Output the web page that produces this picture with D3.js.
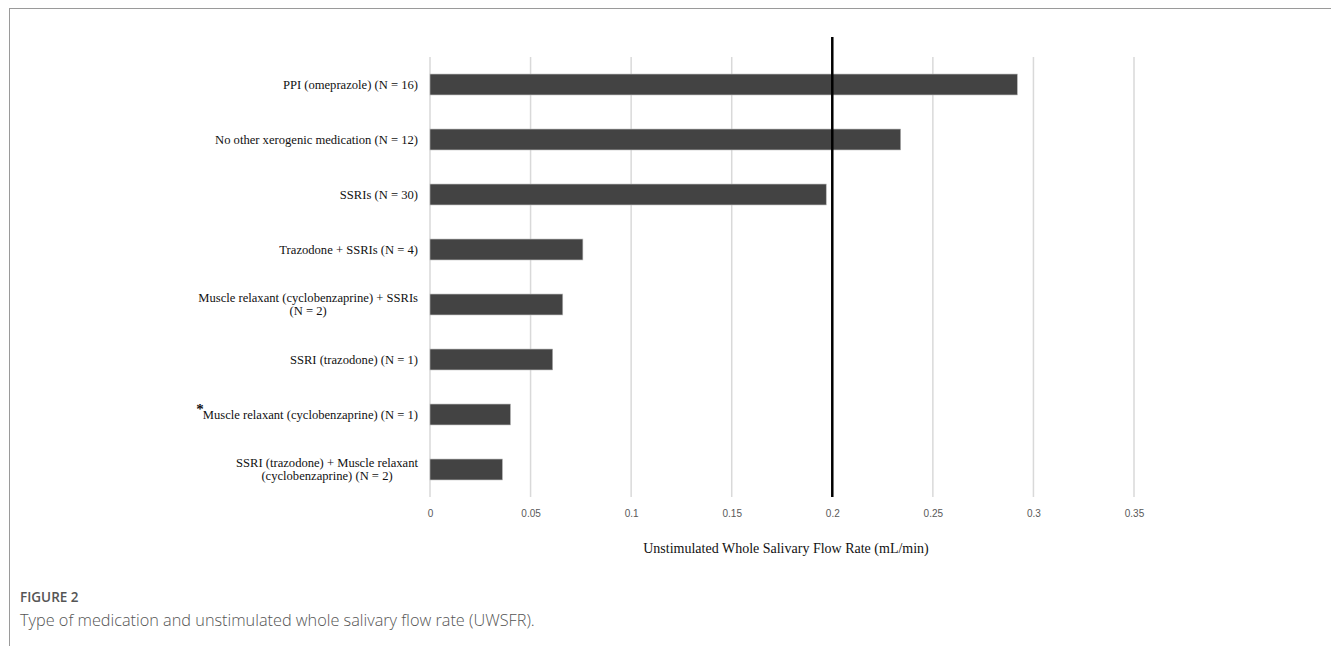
<!DOCTYPE html>
<html lang="en">
<head>
<meta charset="utf-8">
<title>UWSFR by medication</title>
<script src="https://d3js.org/d3.v7.min.js"></script>
<style>
  body { margin: 0; background: #fff; }
</style>
</head>
<body>
<div id="chart"></div>
<script>
// medication groups (top to bottom), each label split into lines
var categories = [
  ["PPI (omeprazole) (N = 16)"],
  ["No other xerogenic medication (N = 12)"],
  ["SSRIs (N = 30)"],
  ["Trazodone + SSRIs (N = 4)"],
  ["Muscle relaxant (cyclobenzaprine) + SSRIs", "(N = 2)"],
  ["SSRI (trazodone) (N = 1)"],
  ["Muscle relaxant (cyclobenzaprine) (N = 1)"],
  ["SSRI (trazodone) + Muscle relaxant", "(cyclobenzaprine) (N = 2)"]
];
var uwsfr = [0.292, 0.234, 0.197, 0.076, 0.066, 0.061, 0.040, 0.036];
var starred = [6]; // index of label with asterisk
var xTicks = [0, 0.05, 0.1, 0.15, 0.2, 0.25, 0.3, 0.35];
var cutoff = 0.2;

var W = 1331, H = 646;
var svg = d3.select("#chart").append("svg").attr("width", W).attr("height", H);

// frame lines top and left
svg.append("line").attr("x1", 9).attr("y1", 8.5).attr("x2", W).attr("y2", 8.5)
  .attr("stroke", "#9a9a9a").attr("stroke-width", 1);
svg.append("line").attr("x1", 9.5).attr("y1", 8).attr("x2", 9.5).attr("y2", H)
  .attr("stroke", "#9a9a9a").attr("stroke-width", 1);

var x = d3.scaleLinear().domain([0, 0.35]).range([430, 1134]);
var y = d3.scaleBand().domain(d3.range(categories.length)).range([57, 497])
  .paddingInner(0.62).paddingOuter(0.31);

// gridlines
svg.append("g").selectAll("line").data(xTicks).join("line")
  .attr("x1", d => x(d)).attr("x2", d => x(d))
  .attr("y1", 57).attr("y2", 497)
  .attr("stroke", "#d9d9d9").attr("stroke-width", 1.5);

// bars
svg.append("g").selectAll("rect").data(uwsfr).join("rect")
  .attr("x", x(0))
  .attr("y", (d, i) => y(i))
  .attr("width", d => x(d) - x(0))
  .attr("height", y.bandwidth())
  .attr("fill", "#434343")
  .attr("stroke", "#b5b5b5").attr("stroke-width", 0.6);

// cutoff line at 0.2
svg.append("line").attr("x1", x(cutoff)).attr("x2", x(cutoff))
  .attr("y1", 37).attr("y2", 497)
  .attr("stroke", "#000").attr("stroke-width", 2.5);

// x axis tick labels
var axis = svg.append("g").attr("transform", "translate(0,497)")
  .call(d3.axisBottom(x).tickValues(xTicks).tickSize(0).tickPadding(13)
    .tickFormat(d => d3.format("")(+d.toFixed(2))));
axis.select(".domain").remove();
axis.selectAll("text").attr("font-family", "'Liberation Sans', Arial, sans-serif")
  .attr("font-size", 10).attr("fill", "#595959");

// category labels
var labelX = 418;
var lab = svg.append("g").attr("font-family", "'Liberation Serif', 'Times New Roman', serif")
  .attr("font-size", 12.6).attr("fill", "#111");
categories.forEach(function (lines, i) {
  var cy = y(i) + y.bandwidth() / 2;
  var lh = 12.7;
  var t = lab.append("text");
  lines.forEach(function (ln, k) {
    t.append("tspan").attr("y", cy + 4 + (k - (lines.length - 1) / 2) * lh).text(ln);
  });
  // right-align the block, center lines inside it
  var widths = t.selectAll("tspan").nodes().map(n => n.getComputedTextLength());
  var maxW = d3.max(widths);
  t.selectAll("tspan").attr("x", labelX - maxW / 2).attr("text-anchor", "middle");
  if (starred.indexOf(i) >= 0) {
    lab.append("text").attr("x", labelX - maxW + 1).attr("y", cy - 1)
      .attr("text-anchor", "end").attr("font-size", 15).attr("font-weight", "bold")
      .text("*");
  }
});

// axis title
svg.append("text").attr("x", 786).attr("y", 553).attr("text-anchor", "middle")
  .attr("font-family", "'Liberation Serif', 'Times New Roman', serif")
  .attr("font-size", 14).attr("fill", "#111")
  .text("Unstimulated Whole Salivary Flow Rate (mL/min)");

// caption
svg.append("text").attr("x", 20).attr("y", 602)
  .attr("font-family", "'Open Sans', sans-serif").attr("font-size", 13.5)
  .attr("font-weight", 600).attr("fill", "#555").text("FIGURE 2");
svg.append("text").attr("x", 20).attr("y", 626)
  .attr("font-family", "'Open Sans', sans-serif").attr("font-size", 16.3)
  .attr("font-weight", 300).attr("fill", "#555")
  .text("Type of medication and unstimulated whole salivary flow rate (UWSFR).");
</script>
</body>
</html>
